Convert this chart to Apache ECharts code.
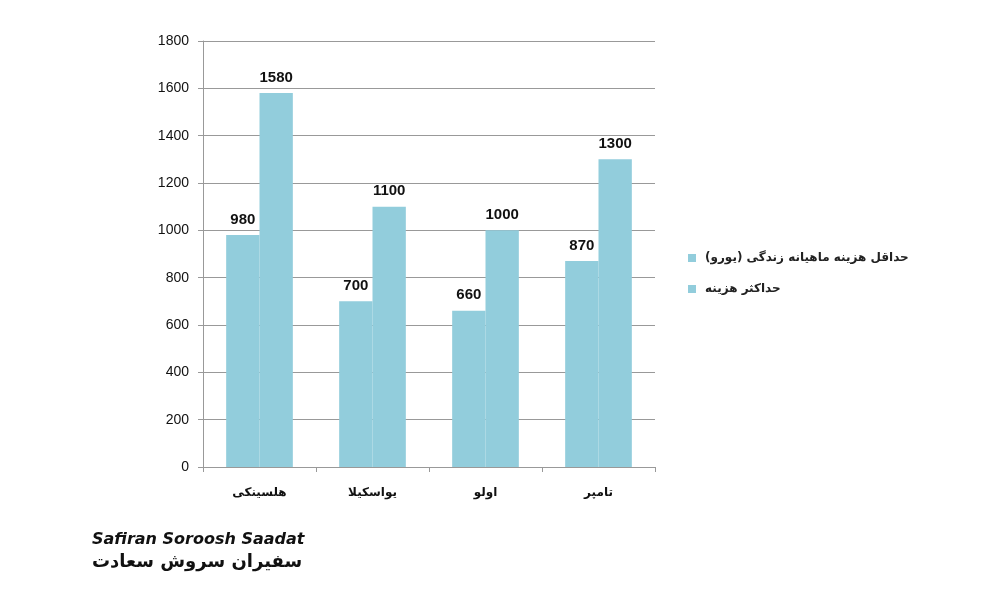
<!DOCTYPE html>
<html><head><meta charset="utf-8">
<script src="https://cdn.jsdelivr.net/npm/echarts@6/dist/echarts.min.js"></script>
<style>body{margin:0;background:#fff}#c{width:1000px;height:600px}</style></head>
<body><div id="c"></div>
<script>
const categories = ['هلسینکی', 'یواسکیلا', 'اولو', 'تامپر'];
const minCost = [980, 700, 660, 870];
const maxCost = [1580, 1100, 1000, 1300];
const seriesNames = ['حداقل هزینه ماهیانه زندگی (یورو)', 'حداکثر هزینه'];
const font = 'DejaVu Sans';
const chart = echarts.init(document.getElementById('c'));
const lbl = {show: true, position: 'top', color: '#111', fontWeight: 'bold', fontSize: 15, fontFamily: 'Liberation Sans', distance: 8};
chart.setOption({
  animation: false,
  grid: {left: 203, right: 345, top: 41, bottom: 133},
  legend: {orient: 'vertical', left: 683, top: 247, itemWidth: 8, itemHeight: 8, itemGap: 19, icon: 'rect',
    textStyle: {fontFamily: font, fontSize: 12, color: '#222', fontWeight: 'bold', padding: [0, 0, 0, 4]}, data: seriesNames},
  xAxis: {type: 'category', data: categories,
    axisLine: {lineStyle: {color: '#999'}},
    axisTick: {show: true, alignWithLabel: false, length: 5, lineStyle: {color: '#999'}},
    axisLabel: {margin: 20, color: '#111', fontFamily: font, fontSize: 12, fontWeight: 'bold'}},
  yAxis: {type: 'value', min: 0, max: 1800, interval: 200,
    axisLine: {show: true, lineStyle: {color: '#999'}},
    axisTick: {show: true, length: 5, lineStyle: {color: '#999'}},
    splitLine: {lineStyle: {color: '#999'}},
    axisLabel: {color: '#111', fontFamily: 'Liberation Sans', fontSize: 14, margin: 14, formatter: v => String(v)}},
  series: [
    {name: seriesNames[0], type: 'bar', data: minCost, barGap: '0%', barCategoryGap: '41%', itemStyle: {color: '#92CDDC'}, label: lbl},
    {name: seriesNames[1], type: 'bar', data: maxCost, itemStyle: {color: '#92CDDC'}, label: lbl}
  ],
  graphic: [
    {type: 'text', left: 92, top: 532, style: {text: 'Safiran Soroosh Saadat', font: 'bold italic 16px DejaVu Sans', fill: '#111'}},
    {type: 'text', left: 92, top: 553, style: {text: 'سفیران سروش سعادت', font: 'bold 18px DejaVu Sans', fill: '#111'}}
  ]
});
</script></body></html>
